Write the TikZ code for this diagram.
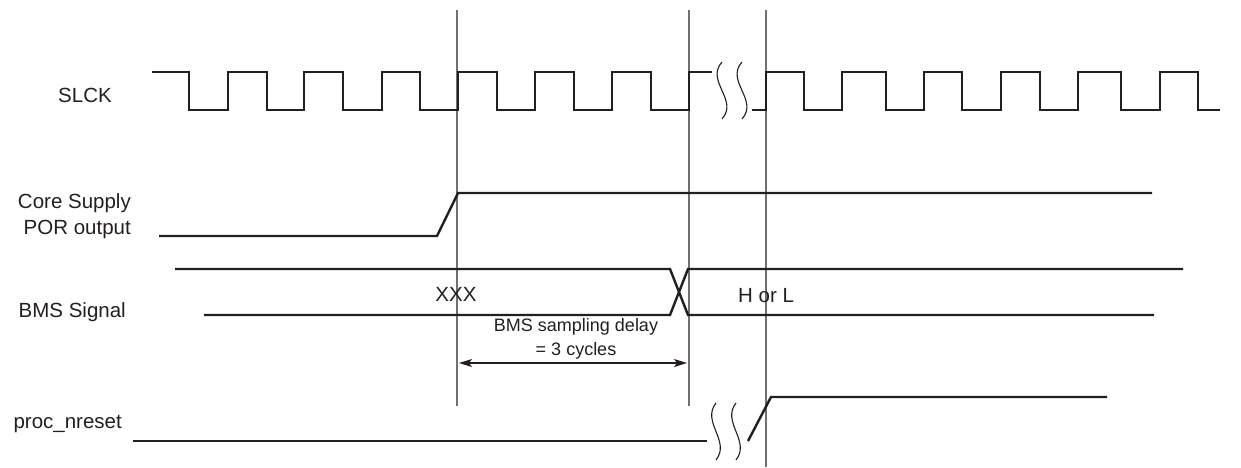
\documentclass[tikz,border=0pt]{standalone}
\usepackage{fontspec}
\setmainfont{Liberation Sans}
\usetikzlibrary{arrows.meta}
\definecolor{ink}{HTML}{231F20}
\definecolor{guidec}{HTML}{707070}
\begin{document}
\begin{tikzpicture}[x=1pt,y=-1pt,
  sig/.style={draw=ink, line width=2.4pt, line join=miter},
  guideline/.style={draw=guidec, line width=1.2pt},
  brk/.style={draw=ink, line width=1.1pt},
  lbl/.style={font=\fontsize{20.5}{24}\selectfont, text=ink, inner sep=0pt},
  note/.style={font=\fontsize{18}{22}\selectfont, text=ink, inner sep=0pt},
  dim/.style={draw=ink, line width=1.2pt, {Stealth[length=13pt,width=8pt,inset=3pt]}-{Stealth[length=13pt,width=8pt,inset=3pt]}}]
\useasboundingbox (0,0) rectangle (1241,467);

% guide lines
\coordinate (g1t) at (457,10);  \coordinate (g1b) at (457,406);
\coordinate (g2t) at (689,10);  \coordinate (g2b) at (689,406);
\coordinate (g3t) at (766,10);  \coordinate (g3b) at (766,467);
\draw[guideline] (g1t) -- (g1b);
\draw[guideline] (g2t) -- (g2b);
\draw[guideline] (g3t) -- (g3b);

% SLCK
\draw[sig] (152,72) -| (189,110) -| (228,72) -| (267,110) -| (304,72) -| (343,110)
  -| (382,72) -| (420,110) -| (458,72) -| (497,110) -| (535,72) -| (574,110)
  -| (612,72) -| (651,110) -| (689,72) -- (712,72);
\draw[sig] (752,110) -| (766,72) -| (804,110) -| (842,72) -| (886,110) -| (924,72)
  -| (962,110) -| (1001,72) -| (1040,110) -| (1078,72) -| (1121,110) -| (1160,72)
  -| (1198,110) -- (1220,110);
\foreach \x in {722,742}
  \draw[brk] (\x,62) .. controls (\x-17,81) and (\x+17,100) .. (\x,119);

% Core supply POR output
\draw[sig] (159,236) -- (437,236) -- (458,193) -- (1152,193);

% BMS signal
\draw[sig] (175,269) -- (670,269) -- (688,315) -- (1154,315);
\draw[sig] (204,315) -- (670,315) -- (688,269) -- (1183,269);

% proc_nreset
\draw[sig] (133,441) -- (707,441);
\draw[sig] (748,441) -- (771,397) -- (1107,397);
\foreach \x in {716,736}
  \draw[brk] (\x,403) .. controls (\x-15,422) and (\x+15,441) .. (\x,460);

% delay arrow
\coordinate (a1) at (459,363);
\coordinate (a2) at (687,363);
\draw[dim] (a1) -- (a2);

% labels
\node[lbl, anchor=base] (slck) at (85,102) {SLCK};
\node[lbl, anchor=base east] (core1) at (131,208) {Core Supply};
\node[lbl, anchor=base east] (core2) at (131,234) {POR output};
\node[lbl, anchor=base east] (bms) at (126,317) {BMS Signal};
\node[lbl, anchor=base east] (proc) at (122,428) {proc\_nreset};
\node[lbl, anchor=base] (xxx) at (456,301) {XXX};
\node[lbl, anchor=base west] (hl) at (738,302) {H or L};
\node[note, anchor=base] (d1) at (576,331) {BMS sampling delay};
\node[note, anchor=base] (d2) at (576,355) {= 3 cycles};
\end{tikzpicture}
\end{document}
